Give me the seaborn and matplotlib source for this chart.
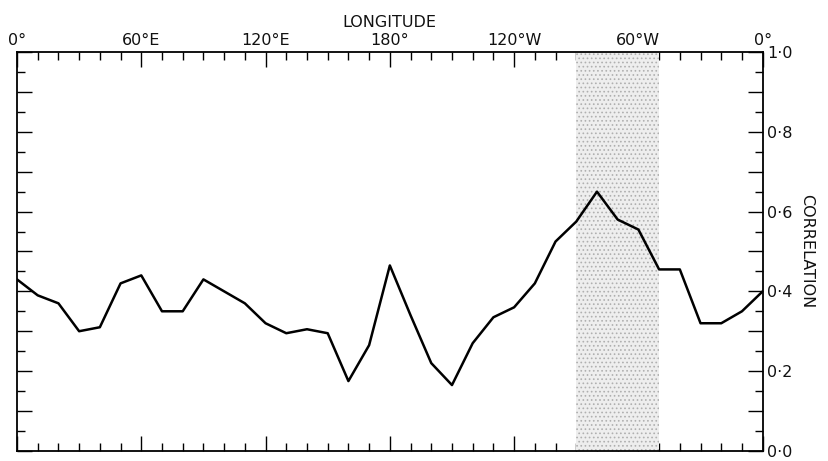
import pandas as pd
import seaborn as sns
import matplotlib.pyplot as plt
from matplotlib.ticker import MultipleLocator

# longitude measured eastward from Greenwich, every 10 degrees
lon = list(range(0, 361, 10))
corr = [0.43, 0.39, 0.37, 0.30, 0.31, 0.42, 0.44, 0.35, 0.35, 0.43,
        0.40, 0.37, 0.32, 0.295, 0.305, 0.295, 0.175, 0.265, 0.465, 0.34,
        0.22, 0.165, 0.27, 0.335, 0.36, 0.42, 0.525, 0.575, 0.65, 0.58,
        0.555, 0.455, 0.455, 0.32, 0.32, 0.35, 0.40]

xtick_pos = [0, 60, 120, 180, 240, 300, 360]
xtick_lab = ['0°', '60°E', '120°E', '180°', '120°W', '60°W', '0°']
ytick_pos = [0.0, 0.1, 0.2, 0.3, 0.4, 0.5, 0.6, 0.7, 0.8, 0.9, 1.0]
ytick_lab = ['0·0', '', '0·2', '', '0·4', '', '0·6', '', '0·8', '', '1·0']
band = (270, 310)

df = pd.DataFrame({'lon': lon, 'corr': corr})

sns.set_style('white')
plt.rcParams['font.family'] = ['DejaVu Sans']
plt.rcParams['hatch.color'] = '#a8a8a8'
plt.rcParams['hatch.linewidth'] = 0.7

fig = plt.figure(figsize=(8.29, 4.61), dpi=100)
ax = fig.add_axes([0.0205, 0.022, 0.8995, 0.865])

# stippled band
ax.axvspan(band[0], band[1], facecolor='#eeeeee', hatch='....', edgecolor='#b0b0b0', linewidth=0)

sns.lineplot(data=df, x='lon', y='corr', color='black', linewidth=1.8, ax=ax)

ax.set_xlim(0, 360)
ax.set_ylim(0, 1.0)
ax.set_xticks(xtick_pos)
ax.set_xticklabels(xtick_lab)
ax.xaxis.set_minor_locator(MultipleLocator(10))
ax.set_yticks(ytick_pos)
ax.set_yticklabels(ytick_lab)
ax.yaxis.set_minor_locator(MultipleLocator(0.05))

ax.tick_params(which='both', direction='in', top=True, bottom=True, left=True, right=True,
               labeltop=True, labelbottom=False, labelleft=False, labelright=True,
               color='black', labelcolor='#111111', labelsize=11.5, pad=3)
ax.tick_params(which='major', length=11, width=1.0)
ax.tick_params(which='minor', length=6, width=1.0)

for s in ax.spines.values():
    s.set_visible(True)
    s.set_color('black')
    s.set_linewidth(1.3)

ax.set_xlabel('LONGITUDE', fontsize=11.5, color='#111111')
ax.xaxis.set_label_position('top')
ax.xaxis.labelpad = 4
ax.set_ylabel('CORRELATION', fontsize=11.5, color='#111111', rotation=270, labelpad=16)
ax.yaxis.set_label_position('right')

fig.savefig('out.png', dpi=100)
